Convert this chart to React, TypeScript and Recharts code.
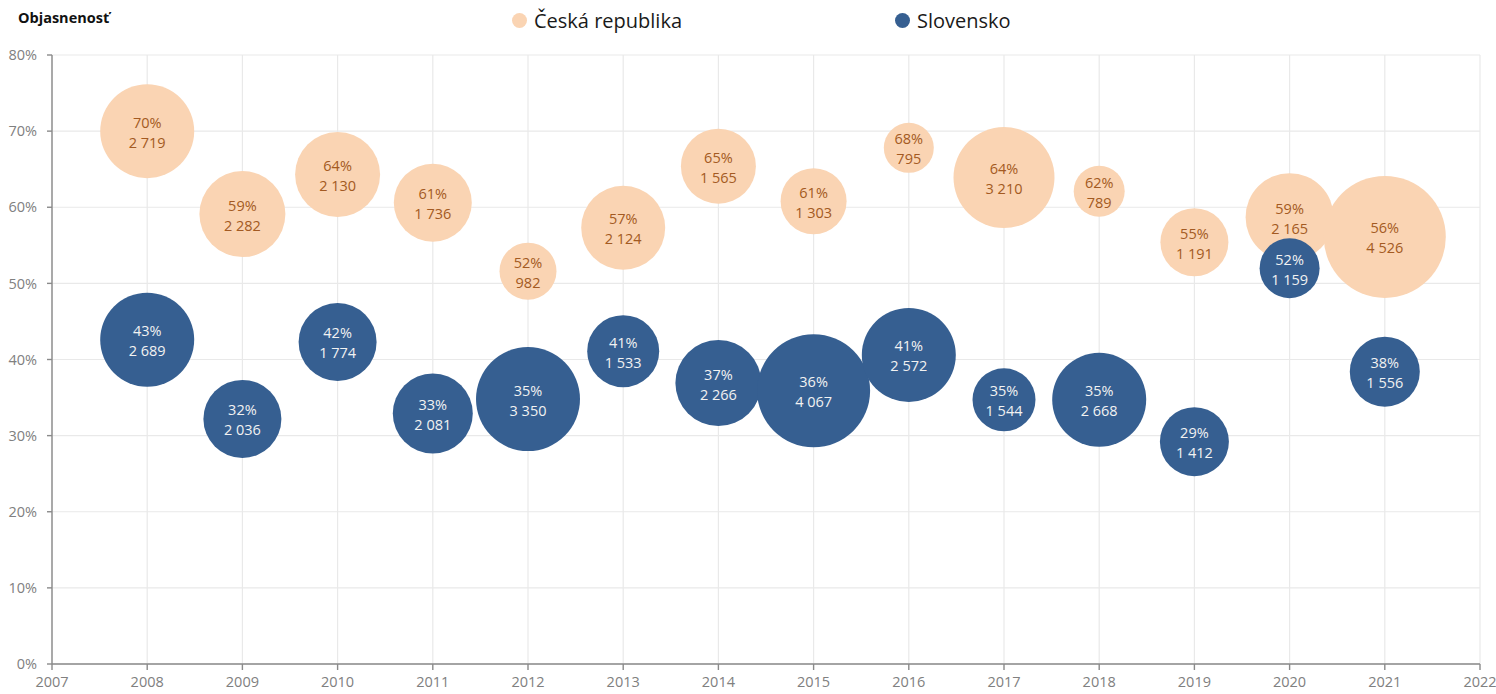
import React from 'react'
import { ScatterChart, Scatter, XAxis, YAxis, ZAxis, CartesianGrid } from 'recharts'

// roky a hodnoty odčítané z grafu
const years = [2008, 2009, 2010, 2011, 2012, 2013, 2014, 2015, 2016, 2017, 2018, 2019, 2020, 2021]

// Česká republika: objasnenosť (%), počet objasnených, veľkosť bubliny
const czRate = [70.0, 59.1, 64.3, 60.6, 51.6, 57.3, 65.4, 60.8, 67.8, 63.9, 62.1, 55.4, 58.7, 56.1]
const czCount = [2719, 2282, 2130, 1736, 982, 2124, 1565, 1303, 795, 3210, 789, 1191, 2165, 4526]
const czSize = [2209, 1849, 1806, 1521, 812, 1764, 1406, 1089, 625, 2550, 650, 1156, 1936, 3721]

// Slovensko
const skRate = [42.6, 32.2, 42.3, 32.9, 34.8, 41.1, 36.9, 35.9, 40.6, 34.7, 34.7, 29.2, 52.0, 38.4]
const skCount = [2689, 2036, 1774, 2081, 3350, 1533, 2266, 4067, 2572, 1544, 2668, 1412, 1159, 1556]
const skSize = [2209, 1521, 1521, 1600, 2704, 1296, 1849, 3192, 2209, 992, 2209, 1190, 900, 1225]

const xTicks = [2007, 2008, 2009, 2010, 2011, 2012, 2013, 2014, 2015, 2016, 2017, 2018, 2019, 2020, 2021, 2022]
const yTicks = [0, 10, 20, 30, 40, 50, 60, 70, 80]

const czData = years.map((year, i) => ({ year, rate: czRate[i], count: czCount[i], size: czSize[i] }))
const skData = years.map((year, i) => ({ year, rate: skRate[i], count: skCount[i], size: skSize[i] }))

const CZ_FILL = '#FAD4B3'
const CZ_TEXT = '#A35A22'
const SK_FILL = '#365F91'
const SK_TEXT = '#F2F2F2'
const FONT = '"Open Sans", sans-serif'

const fmt = (n: number) => String(n).replace(/\B(?=(\d{3})+(?!\d))/g, '\u00a0')

function Bubble(props: any) {
  const { cx, cy, size, width, payload, fill, color } = props
  if (cx == null || cy == null) return null
  const r = size != null ? Math.sqrt(size / Math.PI) : width / 2
  return (
    <g>
      <circle cx={cx} cy={cy} r={r} fill={fill} />
      <text x={cx} y={cy - 9} textAnchor='middle' dominantBaseline='central' fill={color} fontSize={14.5} fontFamily={FONT}>
        {Math.round(payload.rate)}%
      </text>
      <text x={cx} y={cy + 11} textAnchor='middle' dominantBaseline='central' fill={color} fontSize={14.5} fontFamily={FONT}>
        {fmt(payload.count)}
      </text>
    </g>
  )
}

const tickStyle = { fill: '#808080', fontSize: 14.5, fontFamily: FONT }

function App() {
  return (
    <div style={{ position: 'relative', width: 1496, height: 694, background: '#fff' }}>
      <style>{'body{margin:0}'}</style>
      <div style={{ position: 'absolute', left: 18, top: 8, fontFamily: FONT, fontWeight: 700, fontSize: 14.5, color: '#111' }}>
        Objasnenosť
      </div>
      <div style={{ position: 'absolute', left: 512, top: 7, fontFamily: FONT, fontSize: 20, color: '#1a1a1a', display: 'flex', alignItems: 'center' }}>
        <span style={{ width: 15, height: 15, borderRadius: '50%', background: CZ_FILL, display: 'inline-block', marginRight: 7 }} />
        Česká republika
      </div>
      <div style={{ position: 'absolute', left: 895, top: 7, fontFamily: FONT, fontSize: 20, color: '#1a1a1a', display: 'flex', alignItems: 'center' }}>
        <span style={{ width: 15, height: 15, borderRadius: '50%', background: SK_FILL, display: 'inline-block', marginRight: 7 }} />
        Slovensko
      </div>
      <ScatterChart width={1496} height={694} margin={{ top: 55, right: 16, bottom: 0, left: 0 }}>
        <CartesianGrid stroke='#E9E9E9' strokeWidth={1.2} />
        <XAxis
          type='number'
          dataKey='year'
          domain={[2007, 2022]}
          ticks={xTicks}
          interval={0}
          height={30}
          tickSize={6}
          tickMargin={7}
          tick={tickStyle}
          stroke='#8A8A8A'
          strokeWidth={1.4}
        />
        <YAxis
          type='number'
          dataKey='rate'
          domain={[0, 80]}
          ticks={yTicks}
          interval={0}
          width={52}
          tickSize={5}
          tickMargin={10}
          tick={tickStyle}
          tickFormatter={(v: number) => v + '%'}
          stroke='#8A8A8A'
          strokeWidth={1.4}
        />
        <ZAxis type='number' dataKey='size' domain={[0, 3721]} range={[0, Math.PI * 61 * 61]} />
        <Scatter
          name='Česká republika'
          data={czData}
          isAnimationActive={false}
          shape={(p: any) => <Bubble {...p} fill={CZ_FILL} color={CZ_TEXT} />}
        />
        <Scatter
          name='Slovensko'
          data={skData}
          isAnimationActive={false}
          shape={(p: any) => <Bubble {...p} fill={SK_FILL} color={SK_TEXT} />}
        />
      </ScatterChart>
    </div>
  )
}

export default App
